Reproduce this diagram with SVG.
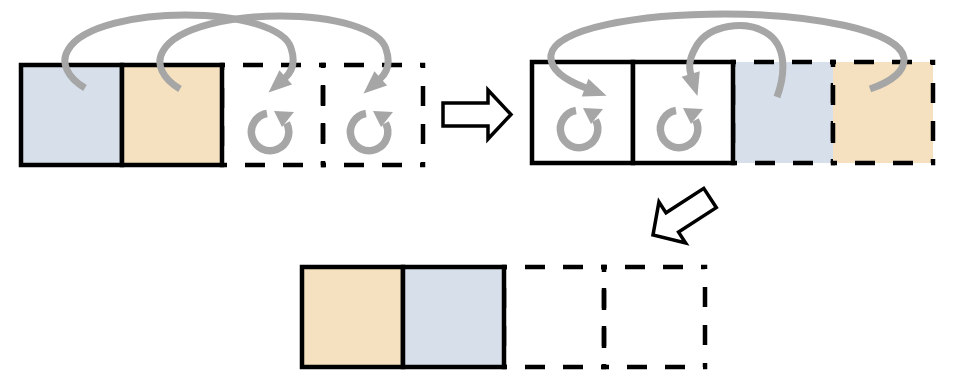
<svg xmlns="http://www.w3.org/2000/svg" width="955" height="370" viewBox="0 0 955 370">
<defs>
<style>
.cell{stroke:#000;stroke-width:4.5;}
.dash{stroke-dasharray:6 18 20 18 20 18;stroke-dashoffset:3;}
.blue{fill:#D6DFEA}
.tan{fill:#F5E0BF}
.none{fill:none}
.white{fill:#fff}
.move{fill:none;stroke:#A6A6A6;stroke-width:7;marker-end:url(#gh)}
.cyc{fill:none;stroke:#A6A6A6;stroke-width:7.5}
.hollow{fill:#fff;stroke:#000;stroke-width:3.5;stroke-linejoin:miter}
</style>
<marker id="gh" markerUnits="userSpaceOnUse" markerWidth="30" markerHeight="30" refX="0" refY="0" orient="auto" overflow="visible">
<path d="M-1,-9.5 L22,0 L-1,9.5 Z" fill="#A6A6A6"/>
</marker>
<g id="cycle">
<path class="cyc" d="M-3,-18.5 A18.7,18.7 0 1 0 16.5,-9"/>
<path d="M4,-21 L24,-20 L12,-5 Z" fill="#A6A6A6"/>
</g>
<polygon id="harrow" class="hollow" points="-68,-11.5 -23,-11.5 -23,-24.5 0,0 -23,24.5 -23,11.5 -68,11.5"/>
</defs>
<rect width="955" height="370" fill="#fff"/>

<!-- Row 1 (left) -->
<g id="r1c3"><rect class="cell dash none" x="222" y="65" width="101" height="100"/></g>
<g id="r1c4"><rect class="cell dash none" x="323" y="65" width="100" height="100"/></g>
<g id="r1c1"><rect class="cell blue" x="21" y="65" width="101" height="100"/></g>
<g id="r1c2"><rect class="cell tan" x="122" y="65" width="100" height="100"/></g>

<!-- Row 2 (right) -->
<g id="r2c3"><rect class="cell dash blue" x="733" y="62" width="100" height="101"/></g>
<g id="r2c4"><rect class="cell dash tan" x="833" y="62" width="100" height="101"/></g>
<g id="r2c1"><rect class="cell white" x="532" y="62" width="101" height="101"/></g>
<g id="r2c2"><rect class="cell white" x="633" y="62" width="100" height="101"/></g>

<!-- Row 3 (bottom) -->
<g id="r3c3"><rect class="cell dash none" x="504" y="267" width="100" height="100"/></g>
<g id="r3c4"><rect class="cell dash none" x="604" y="267" width="101" height="100"/></g>
<g id="r3c1"><rect class="cell tan" x="302" y="267" width="101" height="100"/></g>
<g id="r3c2"><rect class="cell blue" x="403" y="267" width="101" height="100"/></g>

<g id="connectors">
<path class="move" d="M85,88 C68,78 60,63 68,50 C82,25 140,15 185,15 C240,15 285,28 291,48 C295,60 294,70 285,78"/>
<path class="move" d="M180,89 C163,79 155,64 163,51 C177,26 235,16 280,16 C335,16 380,29 386,49 C390,61 389,71 380,79"/>
<use href="#cycle" x="270" y="132"/>
<use href="#cycle" x="369" y="132"/>
<path class="move" d="M870,89 C890,82 905,72 904,58 C900,30 810,14 725,14 C640,14 555,28 551,55 C549,72 570,82 586,88"/>
<path class="move" d="M777,97 C785,75 788,45 765,32 C745,20 710,25 697,45 C693,52 687,62 691,75"/>
<use href="#cycle" x="579" y="129"/>
<use href="#cycle" x="679" y="129"/>
<use href="#harrow" transform="translate(511,114.5)"/>
<use href="#harrow" transform="translate(653,235) rotate(147)"/>
</g>
</svg>
